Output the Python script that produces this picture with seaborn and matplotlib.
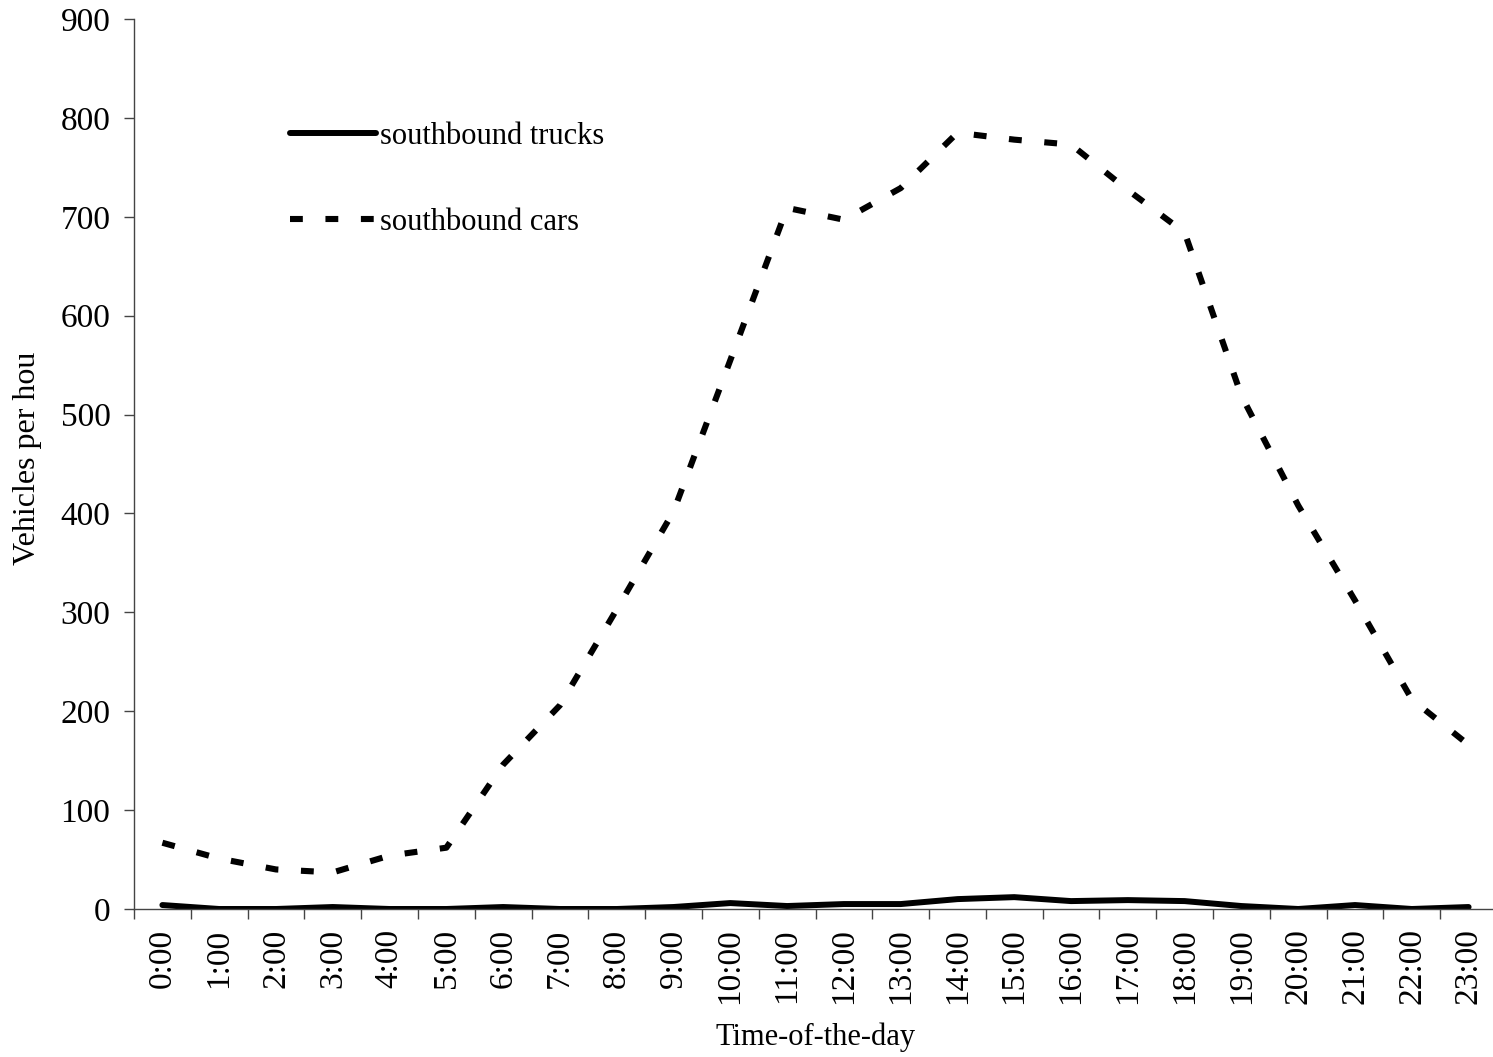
import numpy as np
import pandas as pd
import matplotlib
matplotlib.use("Agg")
import matplotlib.pyplot as plt
from matplotlib.ticker import FixedLocator
import seaborn as sns

hours = [f"{h}:00" for h in range(24)]
trucks = [4, 0, 0, 2, 0, 0, 2, 0, 0, 2, 6, 3, 5, 5, 10, 12, 8, 9, 8, 3, 0, 4, 0, 2]
cars = [67, 51, 40, 37, 54, 62, 146, 206, 303, 402, 555, 709, 697, 729, 785, 778,
        773, 727, 684, 519, 408, 312, 212, 166]
series_names = ["southbound trucks", "southbound cars"]
y_ticks = list(range(0, 901, 100))

sns.set_style("white")
plt.rcParams["font.family"] = ["Liberation Serif", "DejaVu Serif"]
plt.rcParams["text.color"] = "black"
plt.rcParams["axes.labelcolor"] = "black"
plt.rcParams["xtick.color"] = "black"
plt.rcParams["ytick.color"] = "black"

W, H = 1493, 1057
fig = plt.figure(figsize=(W / 100, H / 100), dpi=100)
left, right, top, bottom = 134, 1497, 19, 909
ax = fig.add_axes([left / W, (H - bottom) / H, (right - left) / W, (bottom - top) / H])

pos = np.arange(len(hours))
df = pd.DataFrame({"pos": pos, "trucks": trucks, "cars": cars})

sns.lineplot(data=df, x="pos", y="trucks", ax=ax, color="black", lw=4.3,
             label=series_names[0], solid_capstyle="round", solid_joinstyle="round")
sns.lineplot(data=df, x="pos", y="cars", ax=ax, color="black", lw=4.4,
             label=series_names[1], linestyle=(0, (2.1, 3.7)), dash_capstyle="butt")

ax.set_xlim(-0.5, len(hours) - 0.5)
ax.set_ylim(0, 900)
ax.set_yticks(y_ticks)
ax.set_yticklabels([str(v) for v in y_ticks], fontsize=24)
ax.set_xticks(pos)
ax.set_xticklabels(hours, rotation=90, fontsize=24, va="top", ha="center")
ax.xaxis.set_minor_locator(FixedLocator(np.arange(-0.5, len(hours), 1.0)))

ax.tick_params(axis="x", which="major", length=0, pad=14, colors="black")
ax.tick_params(axis="x", which="minor", length=7.5, width=1.0, color="#444444", direction="out", bottom=True)
ax.tick_params(axis="y", which="major", length=7, width=1.0, color="#444444", labelcolor="black",
               direction="out", pad=10, left=True)

for s in ["top", "right"]:
    ax.spines[s].set_visible(False)
for s in ["left", "bottom"]:
    ax.spines[s].set_color("#444444")
    ax.spines[s].set_linewidth(1.0)

ax.set_xlabel("Time-of-the-day", fontsize=22, color="black")
ax.xaxis.set_label_coords(0.5, (bottom - 1037) / (bottom - top))
ax.xaxis.label.set_va("center")
ax.set_ylabel("Vehicles per hou", fontsize=23, color="black")
ax.yaxis.set_label_coords((28 - left) / (right - left), (bottom - 458) / (bottom - top))
ax.yaxis.label.set_va("center")

leg = ax.legend(loc="upper left", bbox_to_anchor=((290 - left) / (right - left), (bottom - 122) / (bottom - top)),
                frameon=False, fontsize=22, handlelength=2.8, handletextpad=0.15,
                labelspacing=1.87, borderpad=0, borderaxespad=0)
for t in leg.get_texts():
    t.set_color("black")

fig.savefig("out.png", dpi=100, facecolor="white")
